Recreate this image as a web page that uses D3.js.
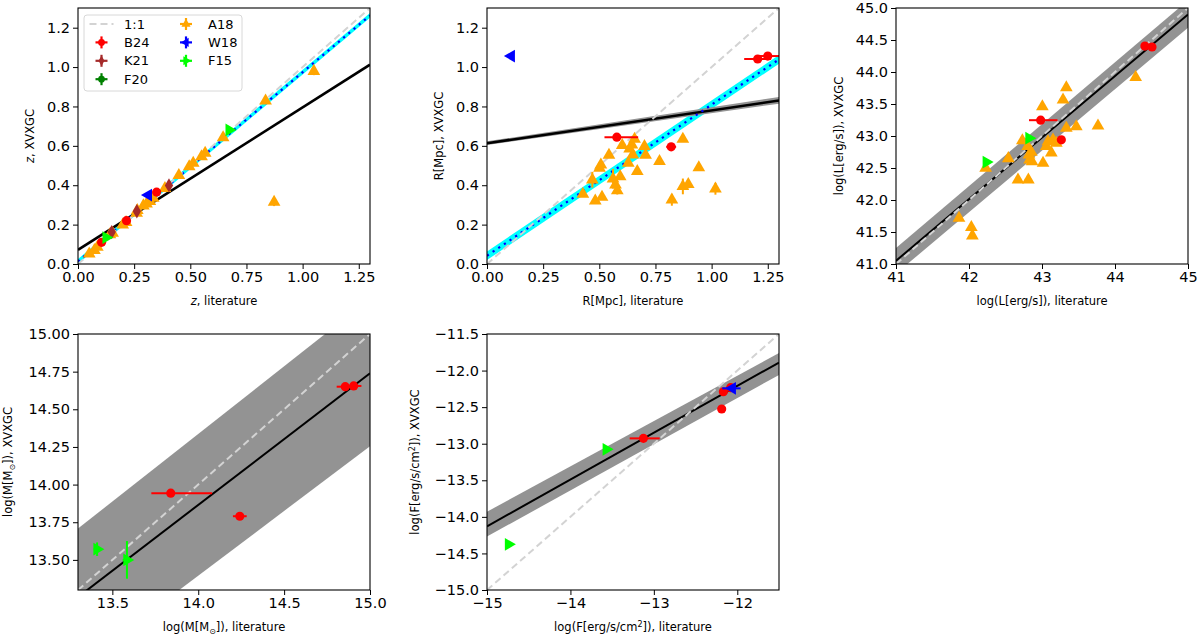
<!DOCTYPE html>
<html><head><meta charset="utf-8">
<script src="https://cdn.jsdelivr.net/npm/d3@7"></script>
<style>body{margin:0;background:#fff;font-family:"DejaVu Sans",sans-serif}</style>
</head><body><svg id="c" width="1200" height="639"></svg>
<script>
// ---------- DATA: [x, y, xerr, yerr]; xerr may be [low, high] ----------
// Panel 1: redshift
const zA18 = [[0.050,0.052,0,0],[0.073,0.069,0,0],[0.086,0.086,0,0],[0.142,0.149,0,0],[0.154,0.157,0,0],
  [0.199,0.199,0,0],[0.214,0.211,0,0],[0.261,0.259,0,0],[0.264,0.272,0,0],[0.291,0.296,0,0],[0.305,0.306,0,0],
  [0.320,0.318,0,0],[0.335,0.335,0,0],[0.387,0.384,0,0],[0.449,0.450,0,0],[0.495,0.495,0,0],[0.513,0.512,0,0],
  [0.550,0.546,0,0],[0.566,0.563,0,0],[0.646,0.642,0,0],[0.835,0.828,0,0],[1.050,0.979,0,0.02],[0.873,0.314,0,0.02]];
const zB24 = [[0.105,0.110,0,0],[0.216,0.220,0,0],[0.350,0.365,0,0]];
const zK21 = [[0.405,0.399,0,0],[0.262,0.268,0,0],[0.150,0.162,0,0]];
const zW18 = [[0.313,0.350,0,0]];
const zF15 = [[0.125,0.134,0,0],[0.673,0.681,0,0]];
const zFit = [[0,0.072],[1.3,1.012]];
const zCyan = [[0,0.013],[1.3,1.262]];
// Panel 2: radius
const rA18 = [[0.427,0.355,0,0],[0.469,0.428,0,0.04],[0.482,0.321,0,0],[0.501,0.487,0,0],[0.507,0.504,0,0],
  [0.512,0.340,0,0],[0.543,0.553,0,0],[0.561,0.433,0,0.05],[0.572,0.402,0,0.03],[0.580,0.373,0,0.02],
  [0.593,0.444,0,0],[0.602,0.602,0,0],[0.629,0.512,0,0],[0.635,0.585,0,0],[0.645,0.605,0,0],[0.649,0.554,0,0],
  [0.657,0.634,0,0],[0.669,0.470,0,0],[0.701,0.597,0,0],[0.706,0.553,0,0],[0.768,0.521,0,0],[0.823,0.326,0,0.03],
  [0.872,0.634,0,0],[0.872,0.394,0,0.04],[0.896,0.404,0,0.02],[0.943,0.490,0,0],[1.017,0.382,0,0.03]];
const rB24 = [[0.578,0.644,[0.055,0.095],0],[0.820,0.595,0.022,0],[1.205,1.041,0.06,0],[1.250,1.056,0.05,0]];
const rW18 = [[0.108,1.056,0,0]];
const rFit = [[0,0.613],[1.3,0.830]];
const rFitUp = [[0,0.623],[1.3,0.848]];
const rFitLo = [[0,0.604],[1.3,0.814]];
const rCyan = [[0,0.042],[1.3,1.039]];
// Panel 3: luminosity
const lA18 = [[41.863,41.718,0.02,0],[42.032,41.572,0,0],[42.046,41.442,0,0],[42.228,42.498,0,0],[42.539,42.649,0.04,0],
  [42.671,42.316,0.04,0],[42.731,42.930,0.04,0],[42.813,42.316,0.05,0],[42.804,42.837,0,0],[42.822,42.707,0,0],
  [42.831,42.628,0.04,0],[42.854,42.748,0,0],[42.863,42.602,0,0],[43.005,43.461,0,0],[43.014,42.576,0.04,0],
  [43.059,42.837,0,0],[43.082,42.914,0,0],[43.128,42.737,0,0],[43.151,42.941,0,0],[43.196,42.888,0,0],
  [43.288,43.565,0.05,0],[43.333,43.757,0.04,0],[43.333,43.122,0,0],[43.470,43.148,0,0],[43.767,43.159,0,0],
  [44.283,43.918,0,0]];
const lB24 = [[42.982,43.247,[0.16,0.23],0],[43.265,42.940,0,0],[44.410,44.405,0,0],[44.507,44.390,0,0]];
const lF15 = [[42.237,42.592,0,0],[42.822,42.966,0,0]];
const lFit = [[41,41.05],[45,44.90]];
const lFitUp = [[41,41.25],[45,45.12]];
const lFitLo = [[41,40.85],[45,44.69]];
// Panel 4: mass
const mB24 = [[13.840,13.943,[0.113,0.241],0],[14.242,13.790,0.04,0],[14.856,14.650,0.05,0],[14.905,14.655,0.045,0]];
const mF15 = [[13.411,13.571,0.02,0.045],[13.585,13.500,0.025,0.125]];
const mFit = [[13.3,13.253],[15.0,14.739]];
const mFitUp = [[13.3,13.708],[15.0,15.235]];
const mFitLo = [[13.3,12.793],[15.0,14.255]];
// Panel 5: flux
const fB24 = [[-13.125,-12.927,[0.165,0.195],0],[-12.187,-12.525,0,0],[-12.167,-12.289,0,0],[-12.080,-12.234,0,0]];
const fW18 = [[-12.060,-12.243,[0.12,0.10],0]];
const fF15 = [[-13.570,-13.077,0,0],[-14.742,-14.376,0,0]];
const fFit = [[-15,-14.13],[-11.5,-11.89]];
const fFitUp = [[-15,-13.93],[-11.5,-11.76]];
const fFitLo = [[-15,-14.27],[-11.5,-12.06]];
// Ticks
const zTicks = [0,0.25,0.5,0.75,1.0,1.25], zYTicks = [0,0.2,0.4,0.6,0.8,1.0,1.2];
const lTicks = [41,42,43,44,45], lYTicks = [41,41.5,42,42.5,43,43.5,44,44.5,45];
const mTicks = [13.5,14.0,14.5,15.0], mYTicks = [13.5,13.75,14.0,14.25,14.5,14.75,15.0];
const fTicks = [-15,-14,-13,-12], fYTicks = [-15,-14.5,-14,-13.5,-13,-12.5,-12,-11.5];
const legendLabels = ["1:1","B24","K21","F20","A18","W18","F15"];

// ---------- STYLE ----------
const C = {A18:"#FFA500", B24:"#FF0000", K21:"#A52A2A", F20:"#008000", W18:"#0000FF", F15:"#00FF00"};
const svg = d3.select("#c");
const W = 292, H = 256;
const TRI = 70, CIRC = 66;

function markerPath(shape, size){
  if (shape==="o") return d3.symbol(d3.symbolCircle, size)();
  if (shape==="d") return d3.symbol(d3.symbolDiamond, size*0.85)();
  return d3.symbol(d3.symbolTriangle, size)();
}
const rot = {"^":0, "<":-90, ">":90, "o":0, "d":0};

function panel(cfg, id){
  const x = d3.scaleLinear().domain(cfg.xd).range([cfg.left, cfg.left+W]);
  const y = d3.scaleLinear().domain(cfg.yd).range([cfg.top+H, cfg.top]);
  const g = svg.append("g");
  svg.append("clipPath").attr("id","clip"+id).append("rect")
    .attr("x",cfg.left).attr("y",cfg.top).attr("width",W).attr("height",H);
  const pg = g.append("g").attr("clip-path","url(#clip"+id+")");
  const line = d3.line().x(d=>x(d[0])).y(d=>y(d[1]));
  const band = (up,lo,fill)=>pg.append("path")
      .attr("d", line(up.concat(lo.slice().reverse()))+"Z").attr("fill",fill).attr("stroke","none");
  if (cfg.cyan){
    const hw = cfg.cyanHW;
    band(cfg.cyan.map(d=>[d[0],d[1]+hw]), cfg.cyan.map(d=>[d[0],d[1]-hw]), "#00FFFF");
  }
  if (cfg.up) band(cfg.up, cfg.lo, "#939393");
  pg.append("path").attr("d", line(cfg.fit)).attr("stroke","#000").attr("stroke-width",cfg.fitW).attr("fill","none");
  if (cfg.cyan) pg.append("path").attr("d", line(cfg.cyan)).attr("stroke","#0000FF")
      .attr("stroke-width",2.2).attr("stroke-dasharray","2.2,4.6").attr("stroke-linecap","butt").attr("fill","none");
  // 1:1
  const lo = Math.min(cfg.xd[0],cfg.yd[0]), hi = Math.max(cfg.xd[1],cfg.yd[1]);
  pg.append("path").attr("d", line([[lo,lo],[hi,hi]])).attr("stroke","#D3D3D3")
    .attr("stroke-width",2).attr("stroke-dasharray","7,4").attr("fill","none");
  // points
  cfg.series.forEach(s=>{
    s.data.forEach(d=>{
      const xe = Array.isArray(d[2]) ? d[2] : [d[2],d[2]];
      if (xe[0]>0 || xe[1]>0) pg.append("line").attr("x1",x(d[0]-xe[0])).attr("x2",x(d[0]+xe[1]))
        .attr("y1",y(d[1])).attr("y2",y(d[1])).attr("stroke",s.c).attr("stroke-width",2);
      if (d[3]>0) pg.append("line").attr("x1",x(d[0])).attr("x2",x(d[0]))
        .attr("y1",y(d[1]-d[3])).attr("y2",y(d[1]+d[3])).attr("stroke",s.c).attr("stroke-width",2);
      pg.append("path").attr("d", markerPath(s.m, s.m==="o"?CIRC:TRI))
        .attr("transform",`translate(${x(d[0])},${y(d[1])}) rotate(${rot[s.m]})`).attr("fill",s.c);
    });
  });
  // axes
  const ax = g.append("g").attr("transform",`translate(0,${cfg.top+H})`)
    .call(d3.axisBottom(x).tickValues(cfg.xt).tickFormat(d3.format(cfg.xf)).tickSize(5).tickPadding(3));
  const ay = g.append("g").attr("transform",`translate(${cfg.left},0)`)
    .call(d3.axisLeft(y).tickValues(cfg.yt).tickFormat(d3.format(cfg.yf)).tickSize(5).tickPadding(3));
  [ax,ay].forEach(a=>{
    a.select(".domain").remove();
    a.selectAll("text").attr("font-size",14.5).attr("font-family","DejaVu Sans").attr("fill","#000");
    a.selectAll("line").attr("stroke","#000").attr("stroke-width",1);
  });
  g.append("rect").attr("x",cfg.left).attr("y",cfg.top).attr("width",W).attr("height",H)
    .attr("fill","none").attr("stroke","#000").attr("stroke-width",1.1);
  // labels
  const xl = g.append("text").attr("x",cfg.left+W/2).attr("y",cfg.top+H+41).attr("text-anchor","middle")
    .attr("font-size",11.5).attr("fill","#000");
  cfg.xlab(xl);
  const yl = g.append("text").attr("transform",`translate(${cfg.ylx},${cfg.top+H/2}) rotate(-90)`)
    .attr("text-anchor","middle").attr("font-size",11.5).attr("fill","#000");
  cfg.ylab(yl);
  return {x,y,g};
}
function zLab(t, rest){ t.append("tspan").attr("font-style","italic").text("z"); t.append("tspan").text(rest); }
function mLab(t, rest){ t.append("tspan").text("log(M[M"); t.append("tspan").attr("font-size",8).attr("dy",2.5).text("⊙");
  t.append("tspan").attr("dy",-2.5).text("])"+rest); }
function fLab(t, rest){ t.append("tspan").text("log(F[erg/s/cm"); t.append("tspan").attr("font-size",8).attr("dy",-4).text("2");
  t.append("tspan").attr("dy",4).text("])"+rest); }

panel({left:78, top:8, xd:[0,1.3], yd:[0,1.3], xt:zTicks, xf:".2f", yt:zYTicks, yf:".1f",
  fit:zFit, fitW:2.6, cyan:zCyan, cyanHW:0.012, ylx:34,
  series:[{data:zA18,c:C.A18,m:"^"},{data:zB24,c:C.B24,m:"o"},{data:zK21,c:C.K21,m:"d"},{data:zW18,c:C.W18,m:"<"},{data:zF15,c:C.F15,m:">"}],
  xlab:t=>zLab(t,", literature"), ylab:t=>zLab(t,", XVXGC")}, 1);
panel({left:487, top:8, xd:[0,1.3], yd:[0,1.3], xt:zTicks, xf:".2f", yt:zYTicks, yf:".1f",
  fit:rFit, fitW:2.6, up:rFitUp, lo:rFitLo, cyan:rCyan, cyanHW:0.022, ylx:443,
  series:[{data:rA18,c:C.A18,m:"^"},{data:rB24,c:C.B24,m:"o"},{data:rW18,c:C.W18,m:"<"}],
  xlab:t=>t.text("R[Mpc], literature"), ylab:t=>t.text("R[Mpc], XVXGC")}, 2);
panel({left:896, top:8, xd:[41,45], yd:[41,45], xt:lTicks, xf:"d", yt:lYTicks, yf:".1f",
  fit:lFit, fitW:2, up:lFitUp, lo:lFitLo, ylx:843,
  series:[{data:lA18,c:C.A18,m:"^"},{data:lB24,c:C.B24,m:"o"},{data:lF15,c:C.F15,m:">"}],
  xlab:t=>t.text("log(L[erg/s]), literature"), ylab:t=>t.text("log(L[erg/s]), XVXGC")}, 3);
panel({left:78, top:334, xd:[13.3,15.0], yd:[13.3,15.0], xt:mTicks, xf:".1f", yt:mYTicks, yf:".2f",
  fit:mFit, fitW:2, up:mFitUp, lo:mFitLo, ylx:12,
  series:[{data:mB24,c:C.B24,m:"o"},{data:mF15,c:C.F15,m:">"}],
  xlab:t=>mLab(t,", literature"), ylab:t=>mLab(t,", XVXGC")}, 4);
panel({left:487, top:334, xd:[-15,-11.5], yd:[-15,-11.5], xt:fTicks, xf:"d", yt:fYTicks, yf:".1f",
  fit:fFit, fitW:2, up:fFitUp, lo:fFitLo, ylx:419,
  series:[{data:fB24,c:C.B24,m:"o"},{data:fW18,c:C.W18,m:"<"},{data:fF15,c:C.F15,m:">"}],
  xlab:t=>fLab(t,", literature"), ylab:t=>fLab(t,", XVXGC")}, 5);

// ---------- LEGEND (panel 1) ----------
const lg = svg.append("g");
lg.append("rect").attr("x",84).attr("y",15).attr("width",158).attr("height",76).attr("rx",3)
  .attr("fill","#fff").attr("fill-opacity",0.8).attr("stroke","#D8D8D8").attr("stroke-width",1);
const legItems = [
  {c:"#D3D3D3", m:"line"}, {c:C.B24,m:"o"}, {c:C.K21,m:"d"}, {c:C.F20,m:"o"},
  {c:C.A18,m:"^"}, {c:C.W18,m:"<"}, {c:C.F15,m:">"}];
legItems.forEach((it,i)=>{
  const col = i<4?0:1, row = i<4?i:i-4;
  const mx = col===0?101.5:186, ty = 24+row*18.4, tx = col===0?124:208;
  if (it.m==="line"){
    lg.append("line").attr("x1",mx-12).attr("x2",mx+12).attr("y1",ty).attr("y2",ty)
      .attr("stroke",it.c).attr("stroke-width",2).attr("stroke-dasharray","7,4");
  } else {
    lg.append("line").attr("x1",mx-6).attr("x2",mx+6).attr("y1",ty).attr("y2",ty).attr("stroke",it.c).attr("stroke-width",2.2);
    lg.append("line").attr("x1",mx).attr("x2",mx).attr("y1",ty-6).attr("y2",ty+6).attr("stroke",it.c).attr("stroke-width",2.2);
    lg.append("path").attr("d", markerPath(it.m, 36)).attr("transform",`translate(${mx},${ty}) rotate(${rot[it.m]})`).attr("fill",it.c);
  }
  lg.append("text").attr("x",tx).attr("y",ty+4.5).attr("font-size",13).attr("fill","#000").text(legendLabels[i]);
});
</script></body></html>
